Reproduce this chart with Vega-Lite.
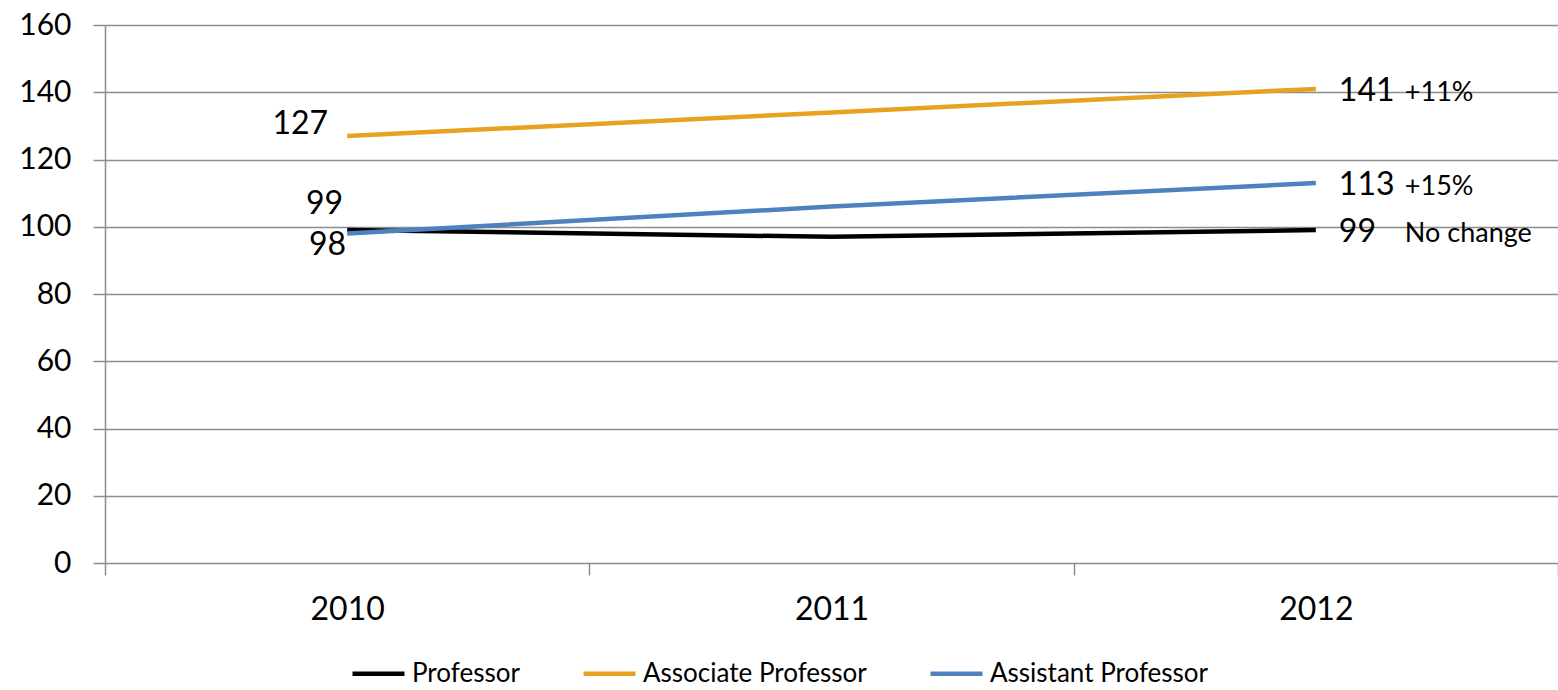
{
  "$schema": "https://vega.github.io/schema/vega-lite/v6.json",
  "width": 1453,
  "height": 538,
  "autosize": "none",
  "padding": {"left": 105, "top": 25, "right": 0, "bottom": 127},
  "background": "white",
  "config": {
    "font": "Lato",
    "view": {"stroke": null},
    "axis": {"labelColor": "#000000", "labelFont": "Lato", "domainColor": "#8c8c8c", "tickColor": "#8c8c8c", "gridColor": "#8c8c8c"}
  },
  "data": {
    "values": [
      {"year": "2010", "series": "Professor", "value": 99},
      {"year": "2011", "series": "Professor", "value": 97},
      {"year": "2012", "series": "Professor", "value": 99, "note": "No change"},
      {"year": "2010", "series": "Associate Professor", "value": 127},
      {"year": "2011", "series": "Associate Professor", "value": 134},
      {"year": "2012", "series": "Associate Professor", "value": 141, "note": "+11%"},
      {"year": "2010", "series": "Assistant Professor", "value": 98},
      {"year": "2011", "series": "Assistant Professor", "value": 106},
      {"year": "2012", "series": "Assistant Professor", "value": 113, "note": "+15%"}
    ]
  },
  "encoding": {
    "x": {
      "field": "year", "type": "ordinal",
      "scale": {"type": "band", "paddingInner": 0, "paddingOuter": 0},
      "axis": {"title": null, "labelAngle": 0, "labelFontSize": 32, "tickBand": "extent", "tickSize": 12, "tickWidth": 1.5, "domain": false, "labelPadding": 19, "grid": false}
    },
    "y": {
      "field": "value", "type": "quantitative",
      "scale": {"domain": [0, 160], "nice": false, "zero": true},
      "axis": {"title": null, "values": [0, 20, 40, 60, 80, 100, 120, 140, 160], "labelFontSize": 30, "tickSize": 12, "tickWidth": 1.5, "gridWidth": 1.5, "domainWidth": 1.5, "labelPadding": 22}
    }
  },
  "layer": [
    {
      "mark": {"type": "line", "strokeWidth": 4.5},
      "encoding": {
        "color": {
          "field": "series", "type": "nominal",
          "scale": {"domain": ["Professor", "Associate Professor", "Assistant Professor"], "range": ["#000000", "#E8A21F", "#4F81BD"]},
          "legend": {
            "title": null, "orient": "none", "direction": "horizontal",
            "legendX": 245, "legendY": 620,
            "symbolType": "stroke", "symbolSize": 2700, "symbolStrokeWidth": 4.5,
            "labelFontSize": 26, "labelLimit": 600, "labelColor": "#000000", "labelFont": "Lato", "labelOffset": 5, "columnPadding": 54
          }
        }
      }
    },
    {
      "transform": [{"filter": "datum.year == '2012'"}],
      "mark": {"type": "text", "align": "left", "baseline": "middle", "dx": 23, "dy": 2, "fontSize": 32, "color": "#000000"},
      "encoding": {"text": {"field": "value", "type": "quantitative"}}
    },
    {
      "transform": [{"filter": "datum.year == '2012'"}],
      "mark": {"type": "text", "align": "left", "baseline": "middle", "dx": 89, "dy": 4, "fontSize": 27, "color": "#000000"},
      "encoding": {"text": {"field": "note", "type": "nominal"}}
    },
    {
      "transform": [{"filter": "datum.year == '2010' && datum.series == 'Associate Professor'"}],
      "mark": {"type": "text", "align": "right", "baseline": "middle", "dx": -19, "dy": -12, "fontSize": 32, "color": "#000000"},
      "encoding": {"text": {"field": "value", "type": "quantitative"}}
    },
    {
      "transform": [{"filter": "datum.year == '2010' && datum.series == 'Professor'"}],
      "mark": {"type": "text", "align": "right", "baseline": "middle", "dx": -4, "dy": -26, "fontSize": 32, "color": "#000000"},
      "encoding": {"text": {"field": "value", "type": "quantitative"}}
    },
    {
      "transform": [{"filter": "datum.year == '2010' && datum.series == 'Assistant Professor'"}],
      "mark": {"type": "text", "align": "right", "baseline": "middle", "dx": -1, "dy": 12, "fontSize": 32, "color": "#000000"},
      "encoding": {"text": {"field": "value", "type": "quantitative"}}
    }
  ]
}
